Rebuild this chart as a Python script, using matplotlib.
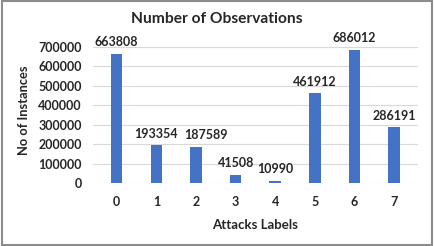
import matplotlib.pyplot as plt
from matplotlib.patches import Rectangle

labels = ['0', '1', '2', '3', '4', '5', '6', '7']
counts = [663808, 193354, 187589, 41508, 10990, 461912, 686012, 286191]

plt.rcParams['font.family'] = ['Lato', 'DejaVu Sans']
plt.rcParams['font.weight'] = 'bold'
txt = '#262626'

fig = plt.figure(figsize=(4.34, 2.46), dpi=100)
ax = fig.add_axes([0.214, 0.256, 0.749, 0.553])

x = range(len(labels))
ax.bar(x, counts, width=0.29, color='#4472C4', zorder=3)
# excel nudged one label sideways so neighbours don't collide
nudge = {2: 7}
for xi, c in zip(x, counts):
    ax.annotate(str(c), (xi, c), xytext=(nudge.get(xi, 0), 4), textcoords='offset points',
                ha='center', va='bottom', fontsize=9, fontweight='bold',
                color=txt, annotation_clip=False)

ax.set_xlim(-0.6, len(labels) - 0.4)
ax.set_ylim(0, 700000)
ax.set_yticks(range(0, 700001, 100000))
ax.set_xticks(list(x))
ax.set_xticklabels(labels)
ax.tick_params(axis='both', length=0, labelsize=9, colors=txt)
ax.tick_params(axis='x', pad=9)
ax.tick_params(axis='y', pad=8)
ax.grid(axis='y', color='#D9D9D9', linewidth=0.8, zorder=0)
for s in ax.spines.values():
    s.set_visible(False)

ax.set_xlabel('Attacks Labels', fontsize=9.5, fontweight='bold', color=txt, labelpad=8)
fig.text(0.055, 0.553, 'No of Instances', rotation=90, ha='center', va='center',
         fontsize=9.3, fontweight='bold', color=txt)
fig.text(0.5, 0.922, 'Number of Observations', ha='center', va='center',
         fontsize=11.2, fontweight='bold', color=txt)

fig.patches.append(Rectangle((0.004, 0.006), 0.992, 0.988, transform=fig.transFigure,
                             fill=False, edgecolor='#8C8C8C', linewidth=1.5))

fig.savefig('out.png', dpi=100)
